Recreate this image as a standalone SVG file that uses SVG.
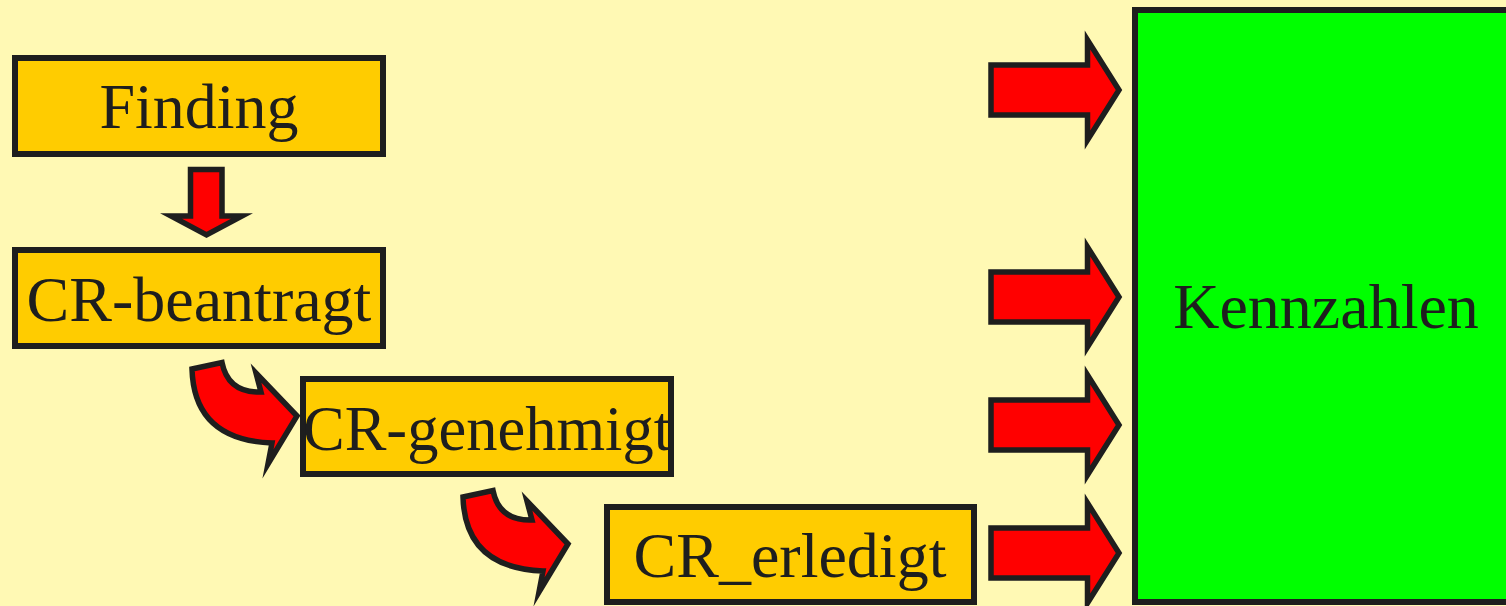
<svg xmlns="http://www.w3.org/2000/svg" width="1506" height="606" viewBox="0 0 1506 606">
  <style>
    .box { fill: #FFCC00; stroke: #1E1E1E; stroke-width: 6; }
    .kz { fill: #00FF00; stroke: #1E1E1E; stroke-width: 6; }
    .arrow { fill: #FF0000; stroke: #1E1E1E; stroke-width: 5.5; stroke-linejoin: miter; stroke-miterlimit: 10; }
    .label { font-family: "Liberation Serif", "Times New Roman", serif; font-size: 64px; fill: #1E1E1E; text-anchor: middle; }
  </style>
  <defs>
    <!-- block arrow pointing right, centred on y = 0 -->
    <path id="rightArrow" d="M 991,-25 H 1087.5 V -50 L 1119,0 L 1087.5,50 V 25 H 991 Z"/>
    <!-- curved arrow bending down and to the right -->
    <path id="bendArrow" d="M 192,369 L 222,362.5 Q 228,393 261,392 L 256,373 L 297,416 L 268,464 L 272,443 Q 194,440 192,369 Z"/>
  </defs>
  <rect width="1506" height="606" fill="#FFF9B4"/>

  <g id="connectors">
    <path class="arrow" d="M 190.5,169.5 H 222 V 216 H 242 L 206.5,235 L 171,216 H 190.5 Z"/>
    <use href="#bendArrow" class="arrow"/>
    <use href="#bendArrow" class="arrow" transform="translate(271,128)"/>
    <use href="#rightArrow" class="arrow" transform="translate(0,90)"/>
    <use href="#rightArrow" class="arrow" transform="translate(0,297)"/>
    <use href="#rightArrow" class="arrow" transform="translate(0,425)"/>
    <use href="#rightArrow" class="arrow" transform="translate(0,553)"/>
  </g>

  <g id="finding">
    <rect class="box" x="15" y="58" width="368" height="96"/>
    <text class="label" x="199" y="128">Finding</text>
  </g>

  <g id="cr-beantragt">
    <rect class="box" x="15" y="250" width="368" height="96"/>
    <text class="label" x="199" y="321">CR-beantragt</text>
  </g>

  <g id="cr-genehmigt">
    <rect class="box" x="303" y="379" width="368" height="95"/>
    <text class="label" x="487" y="450" textLength="368" lengthAdjust="spacingAndGlyphs">CR-genehmigt</text>
  </g>

  <g id="cr-erledigt">
    <rect class="box" x="607" y="507" width="367" height="95"/>
    <text class="label" x="790" y="577">CR_erledigt</text>
  </g>

  <g id="kennzahlen">
    <rect class="kz" x="1135" y="10" width="390" height="592"/>
    <text class="label" x="1326" y="328">Kennzahlen</text>
  </g>
</svg>
